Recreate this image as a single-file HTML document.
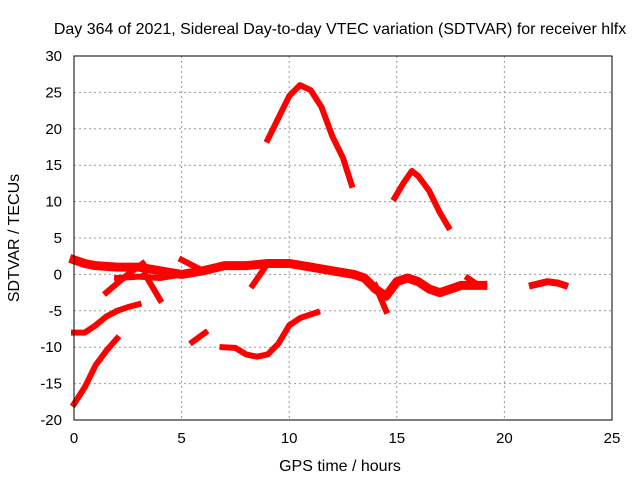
<!DOCTYPE html>
<html><head><meta charset="utf-8"><style>
body{margin:0;background:#fff}
svg{display:block;font-family:"Liberation Sans",sans-serif}
</style></head><body>
<svg id="chart" width="640" height="480">
<text x="340" y="34" font-size="16" text-anchor="middle">Day 364 of 2021, Sidereal Day-to-day VTEC variation (SDTVAR) for receiver hlfx</text>
<text x="340" y="471" font-size="16" text-anchor="middle">GPS time / hours</text>
<text transform="translate(19,238) rotate(-90)" font-size="16" text-anchor="middle">SDTVAR / TECUs</text>
<g id="grid"></g><g id="series"></g>
<rect x="74" y="56" width="538" height="364" fill="none" stroke="#000" stroke-width="1"/>
</svg>
<script>
const xTicks=[0,5,10,15,20,25];
const yTicks=[-20,-15,-10,-5,0,5,10,15,20,25,30];
const s1x=[9.0,9.5,10,10.5,11,11.5,12,12.5,12.9], s1y=[18.5,21.5,24.5,26,25.3,23,19,16,12.3];
const s2x=[14.9,15.3,15.7,16.0,16.5,17,17.4], s2y=[10.5,12.5,14.2,13.5,11.5,8.5,6.5];
const s3x=[0,0.5,1,1.5,2.0], s3y=[-17.8,-15.5,-12.5,-10.5,-8.8];
const s4x=[0,0.5,1,1.5,2,2.5,3], s4y=[-8,-8,-7,-5.8,-5,-4.5,-4.1];
const s5x=[5.5,6.1], s5y=[-9.3,-8.0];
const s6x=[6.9,7.5,8,8.5,9,9.5,10,10.5,11,11.3], s6y=[-10,-10.1,-11,-11.3,-11,-9.5,-7,-6,-5.5,-5.2];
const s7x=[0,0.5,1,2,3,4,5,6,7,8,9,10,11,12,13,13.5,14,14.5,15,15.5,16,16.5,17,17.5,18,19];
const s7y=[2,1.5,1.2,1,1,0.5,0,0.5,1.2,1.2,1.5,1.5,1,0.5,0,-0.5,-2,-3,-1,-0.5,-1,-2,-2.5,-2,-1.5,-1.5];
const s8x=[2,3,4,5], s8y=[-0.5,-0.3,-0.5,0];
const s9x=[5,6], s9y=[2,0.5];
const s10x=[3.3,4], s10y=[0,-3.5];
const s11x=[1.5,2.5,3.2], s11y=[-2.5,0,1.5];
const s12x=[8.3,9], s12y=[-1.5,1.5];
const s13x=[14,14.5], s13y=[-1.5,-5];
const s14x=[18.3,18.8], s14y=[-0.5,-1.5];
const s15x=[21.3,22,22.5,22.8], s15y=[-1.5,-1,-1.2,-1.5];
const seriesX=[s1x,s2x,s3x,s4x,s5x,s6x,s7x,s8x,s9x,s10x,s11x,s12x,s13x,s14x,s15x];
const seriesY=[s1y,s2y,s3y,s4y,s5y,s6y,s7y,s8y,s9y,s10y,s11y,s12y,s13y,s14y,s15y];
const widths=[6,6,6,6,6,6,9,6,6,6,6,6,6,6,7];
const NS="http://www.w3.org/2000/svg";
const X=h=>74+h*538/25, Y=v=>420-(v+20)*364/50;
const svg=document.getElementById('chart'),grid=document.getElementById('grid'),ser=document.getElementById('series');
function mk(t,a,p){const e=document.createElementNS(NS,t);for(const k in a)e.setAttribute(k,a[k]);p.appendChild(e);return e;}
xTicks.forEach(t=>{
 if(t>0&&t<25){const g=mk('line',{x1:X(t),x2:X(t),y1:56,y2:420,stroke:'#999','stroke-dasharray':'2,3'},grid);
 
 }
 const l=mk('text',{x:X(t),y:443,'font-size':15,'text-anchor':'middle'},svg);l.textContent=t;
 
 
});
yTicks.forEach(t=>{
 if(t>-20&&t<30){const g=mk('line',{x1:74,x2:612,y1:Y(t),y2:Y(t),stroke:'#999','stroke-dasharray':'2,3'},grid);
 
 }
 const l=mk('text',{x:62,y:Y(t)+5,'font-size':15,'text-anchor':'end'},svg);l.textContent=t;
 
 
});
seriesX.forEach((xs,i)=>{
 const pts=xs.map((x,j)=>X(x)+','+Y(seriesY[i][j])).join(' ');
 const p=mk('polyline',{points:pts,fill:'none',stroke:'#f00','stroke-width':widths[i],'stroke-linejoin':'round','stroke-linecap':'square'},ser);
 
 
});
</script>
</body></html>
